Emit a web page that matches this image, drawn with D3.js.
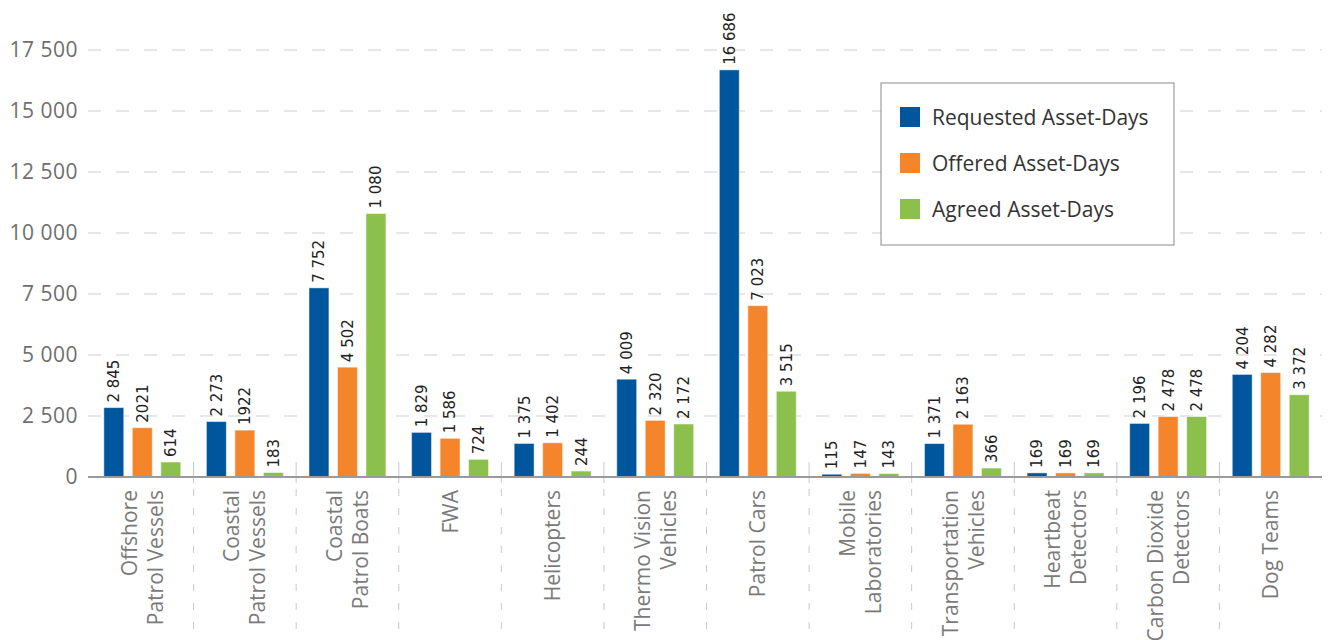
<!DOCTYPE html>
<html>
<head>
<meta charset="utf-8">
<script src="https://cdn.jsdelivr.net/npm/d3@7"></script>
<style>
  body { margin: 0; background: #fff; }
</style>
</head>
<body>
<div id="chart"></div>
<script>
var width = 1333;
var height = 640;

// data
var categories = [
    ["Offshore", "Patrol Vessels"],
    ["Coastal", "Patrol Vessels"],
    ["Coastal", "Patrol Boats"],
    ["FWA"],
    ["Helicopters"],
    ["Thermo Vision", "Vehicles"],
    ["Patrol Cars"],
    ["Mobile", "Laboratories"],
    ["Transportation", "Vehicles"],
    ["Heartbeat", "Detectors"],
    ["Carbon Dioxide", "Detectors"],
    ["Dog Teams"]
];
var seriesNames = ["Requested Asset-Days", "Offered Asset-Days", "Agreed Asset-Days"];
var seriesColors = ["#00569c", "#f5852b", "#8bc04c"];

var requested = [2845, 2273, 7752, 1829, 1375, 4009, 16686, 115, 1371, 169, 2196, 4204];
var offered   = [2021, 1922, 4502, 1586, 1402, 2320, 7023, 147, 2163, 169, 2478, 4282];
var agreed    = [614, 183, 10800, 724, 244, 2172, 3515, 143, 366, 169, 2478, 3372];

// the value labels as printed on the chart
var requestedLabels = ["2 845", "2 273", "7 752", "1 829", "1 375", "4 009", "16 686", "115", "1 371", "169", "2 196", "4 204"];
var offeredLabels   = ["2021", "1922", "4 502", "1 586", "1 402", "2 320", "7 023", "147", "2 163", "169", "2 478", "4 282"];
var agreedLabels    = ["614", "183", "1 080", "724", "244", "2 172", "3 515", "143", "366", "169", "2 478", "3 372"];

var yTicks = [0, 2500, 5000, 7500, 10000, 12500, 15000, 17500];
var yTickLabels = ["0", "2 500", "5 000", "7 500", "10 000", "12 500", "15 000", "17 500"];

var series = [requested, offered, agreed];
var seriesLabels = [requestedLabels, offeredLabels, agreedLabels];

var left = 91, right = 1322, baseY = 477, topY = 50;

var svg = d3.select("#chart").append("svg").attr("width", width).attr("height", height);

var x0 = d3.scaleBand().domain(d3.range(categories.length)).range([left, right]);
var x1 = d3.scaleBand().domain(d3.range(series.length))
    .range([x0.bandwidth() * 0.125, x0.bandwidth() * 0.875]).paddingInner(0.3);
var y = d3.scaleLinear().domain([0, 17500]).range([baseY, topY]);

// gridlines
var grid = svg.append("g").attr("class", "grid");
grid.selectAll("line").data(yTicks.slice(1)).enter().append("line")
    .attr("x1", 88).attr("x2", right)
    .attr("y1", function(d){ return y(d); })
    .attr("y2", function(d){ return y(d); })
    .attr("stroke", "#cfcfcf")
    .attr("stroke-width", 1)
    .attr("stroke-dasharray", "13,15");

// y axis labels
var yAxis = d3.axisLeft(y).tickValues(yTicks)
    .tickFormat(function(d, i){ return yTickLabels[i]; })
    .tickSize(0).tickPadding(0);
var yg = svg.append("g").attr("transform", "translate(78,0)").call(yAxis);
yg.select(".domain").remove();
yg.selectAll("text")
    .attr("fill", "#6e6e6e")
    .style("font-family", "Open Sans")
    .style("font-size", "21px")
    .style("letter-spacing", "0.5px");

// category separators (inner boundaries only)
var seps = svg.append("g").attr("class", "seps");
var bounds = d3.range(1, categories.length).map(function(i){ return left + i * x0.step(); });
seps.selectAll(".tick_solid").data(bounds).enter().append("line")
    .attr("x1", function(d){ return d; }).attr("x2", function(d){ return d; })
    .attr("y1", baseY - 15).attr("y2", baseY + 6)
    .attr("stroke", "#c8c8c8").attr("stroke-width", 1);
seps.selectAll(".tick_dash").data(bounds).enter().append("line")
    .attr("x1", function(d){ return d; }).attr("x2", function(d){ return d; })
    .attr("y1", baseY + 12).attr("y2", height)
    .attr("stroke", "#c8c8c8").attr("stroke-width", 1)
    .attr("stroke-dasharray", "7,12");

// bars
var groups = svg.append("g").attr("class", "bars").selectAll("g").data(categories).enter().append("g")
    .attr("transform", function(d, i){ return "translate(" + x0(i) + ",0)"; });

groups.each(function(c, i){
    var g = d3.select(this);
    series.forEach(function(s, j){
        g.append("rect")
            .attr("x", x1(j))
            .attr("y", y(s[i]))
            .attr("width", x1.bandwidth())
            .attr("height", baseY - y(s[i]))
            .attr("fill", seriesColors[j])
            .attr("stroke", "#ffffff")
            .attr("stroke-opacity", 0.5)
            .attr("stroke-width", 1);
        var cx = x1(j) + x1.bandwidth() / 2;
        var ty = y(s[i]) - 5;
        g.append("text")
            .attr("transform", "translate(" + cx + "," + ty + ") rotate(-90)")
            .attr("dy", "0.36em")
            .attr("text-anchor", "start")
            .attr("fill", "#222")
            .style("font-family", "DejaVu Sans")
            .style("font-size", "15px")
            .text(seriesLabels[j][i]);
    });
});

// baseline
svg.append("line").attr("x1", 88).attr("x2", right)
    .attr("y1", baseY).attr("y2", baseY)
    .attr("stroke", "#9a9a9a").attr("stroke-width", 2);

// category labels
var xl = svg.append("g").attr("class", "xlabels");
categories.forEach(function(lines, i){
    var cx = x0(i) + x0.bandwidth() / 2;
    var t = xl.append("text")
        .attr("transform", "translate(" + cx + "," + (baseY + 13) + ") rotate(-90)")
        .attr("text-anchor", "end")
        .attr("fill", "#7a7a7a")
        .style("font-family", "Open Sans")
        .style("font-size", "21px");
    lines.forEach(function(l, k){
        t.append("tspan")
            .attr("x", 0)
            .attr("y", (k - (lines.length - 1) / 2) * 26)
            .attr("dy", "0.36em")
            .text(l);
    });
});

// legend
var legend = svg.append("g").attr("transform", "translate(881,83)");
legend.append("rect").attr("width", 293).attr("height", 162)
    .attr("fill", "#fff").attr("stroke", "#8a8a8a").attr("stroke-width", 1);
seriesNames.forEach(function(n, j){
    var row = legend.append("g").attr("transform", "translate(19," + (24 + j * 46) + ")");
    row.append("rect").attr("width", 20).attr("height", 20).attr("fill", seriesColors[j]);
    row.append("text").attr("x", 32).attr("y", 10).attr("dy", "0.36em")
        .attr("fill", "#333")
        .style("font-family", "Open Sans")
        .style("font-size", "21px")
        .text(n);
});
</script>
</body>
</html>
